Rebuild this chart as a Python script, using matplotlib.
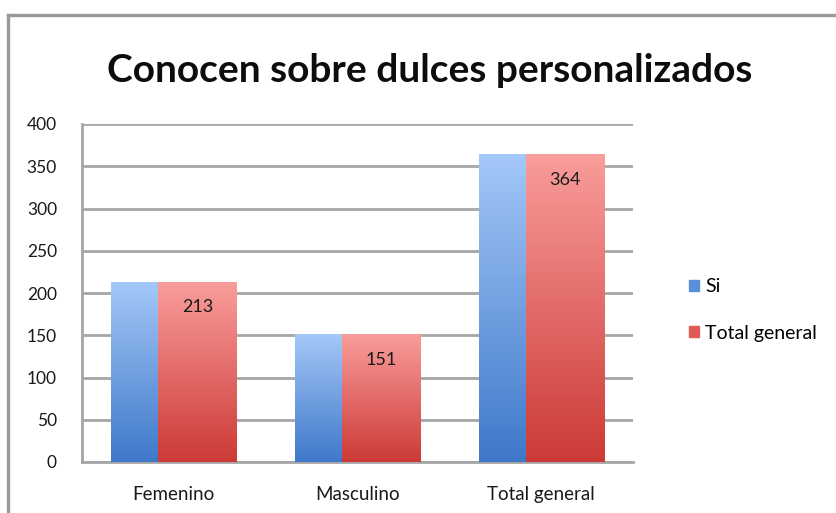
import numpy as np
import matplotlib.pyplot as plt
from matplotlib.colors import LinearSegmentedColormap
import matplotlib.patches as mpatches
from matplotlib.lines import Line2D

categories = ['Femenino', 'Masculino', 'Total general']
si = [213, 151, 364]
total_general = [213, 151, 364]
series_names = ['Si', 'Total general']
yticks = [0, 50, 100, 150, 200, 250, 300, 350, 400]

plt.rcParams['font.family'] = ['Lato', 'DejaVu Sans']

fig = plt.figure(figsize=(8.37, 5.13), dpi=100)
ax = fig.add_axes([82/837, 1 - 462/513, (633-82)/837, (462-124)/513])

# outer chart border (only top and left visible in the crop)
top_y = 1 - 15/513
left_x = 8/837
fig.lines.append(Line2D([left_x, 1.0], [top_y, top_y], transform=fig.transFigure,
                        color='#999999', linewidth=2.4))
fig.lines.append(Line2D([left_x, left_x], [0, top_y], transform=fig.transFigure,
                        color='#999999', linewidth=2.4))

blue_cm = LinearSegmentedColormap.from_list('b', ['#3f78c9', '#a4c8f8'])
red_cm = LinearSegmentedColormap.from_list('r', ['#cc3a36', '#f99d9b'])

x = np.arange(len(categories))
w = 0.426
off = 0.128
grad = np.linspace(0, 1, 256).reshape(-1, 1)

def gradient_bars(xs, vals, cmap):
    bars = ax.bar(xs, vals, w, color='none', zorder=3)
    for b in bars:
        bx, by = b.get_x(), b.get_y()
        im = ax.imshow(grad, cmap=cmap, origin='lower', aspect='auto',
                       extent=[bx, bx + b.get_width(), by, by + b.get_height()],
                       zorder=3)
        im.set_clip_path(b)
    return bars

gradient_bars(x - off, si, blue_cm)
gradient_bars(x + off, total_general, red_cm)

for xi, v in zip(x, total_general):
    ax.text(xi + off, v - 30, str(v), ha='center', va='center', fontsize=13,
            color='#1a1a1a', zorder=5)

ax.set_xlim(-0.5, len(categories) - 0.5)
ax.set_ylim(0, 400)
ax.set_yticks(yticks)
ax.set_xticks(x)
ax.set_xticklabels(categories, fontsize=13.5)
ax.tick_params(axis='both', length=0, colors='#1a1a1a')
ax.tick_params(axis='y', pad=18, labelsize=12.5)
ax.tick_params(axis='x', pad=17)
ax.yaxis.grid(True, color='#a6a6a6', linewidth=2, zorder=0)
ax.set_axisbelow(True)
for s in ['top', 'right']:
    ax.spines[s].set_visible(False)
for s in ['left', 'bottom']:
    ax.spines[s].set_color('#a6a6a6')
    ax.spines[s].set_linewidth(2)

fig.text(430/837, 1 - 70/513, 'Conocen sobre dulces personalizados',
         ha='center', va='center', fontsize=28, fontweight='bold', color='#0d0d0d')

handles = [mpatches.Patch(color='#5b8fd9', label=series_names[0]),
           mpatches.Patch(color='#e05a57', label=series_names[1])]
fig.legend(handles=handles, loc='center left', bbox_to_anchor=(672/837, 1 - 310/513),
           frameon=False, fontsize=14, handlelength=0.5, handleheight=0.5,
           handletextpad=0.3, labelspacing=1.5)

fig.savefig('out.png', dpi=100)
